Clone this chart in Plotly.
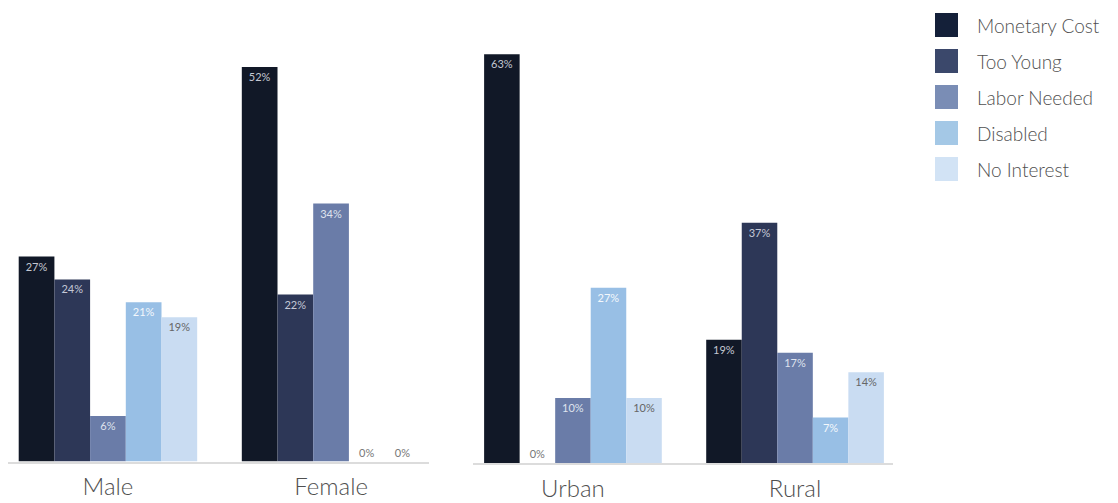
import plotly.graph_objects as go

# ---- data ----
series = ["Monetary Cost", "Too Young", "Labor Needed", "Disabled", "No Interest"]
bar_colors = ["#111827", "#2d3757", "#6a7ca8", "#98bfe5", "#c9dcf2"]
legend_colors = ["#142039", "#3b486b", "#7a8db5", "#a4c8e6", "#d2e3f5"]
text_colors = ["#c4c8d2", "#c4c8d6", "#dfe3ee", "#f4f8fc", "#666666"]

gender_cats = ["Male", "Female"]
gender_vals = {
    "Monetary Cost": [27, 52],
    "Too Young": [24, 22],
    "Labor Needed": [6, 34],
    "Disabled": [21, 0],
    "No Interest": [19, 0],
}

area_cats = ["Urban", "Rural"]
area_vals = {
    "Monetary Cost": [63, 19],
    "Too Young": [0, 37],
    "Labor Needed": [10, 17],
    "Disabled": [27, 7],
    "No Interest": [10, 14],
}

OFF = 8  # page body margin
W, H = 1118 - OFF, 503 - OFF
FONT = "Lato"

fig = go.Figure()


def add_group(cats, vals, xa, ya):
    for s, bc, tc in zip(series, bar_colors, text_colors):
        v = vals[s]
        fig.add_trace(go.Bar(
            x=cats, y=v, name=s, xaxis=xa, yaxis=ya,
            marker=dict(color=bc, line=dict(width=0)),
            text=[f"{a}%" for a in v],
            textposition=["outside" if a == 0 else "inside" for a in v],
            insidetextanchor="end",
            textfont=dict(family=FONT, size=11,
                          color=["#777777" if a == 0 else tc for a in v]),
            cliponaxis=False,
            showlegend=False,
            hoverinfo="skip",
        ))


add_group(gender_cats, gender_vals, "x", "y")
add_group(area_cats, area_vals, "x2", "y2")


def px_x(p):
    return (p - OFF) / W


def px_y(p):
    return 1 - (p - OFF) / H


axis_common = dict(
    showline=True, linecolor="#dcdcdc", linewidth=1.5,
    showgrid=False, zeroline=False, ticks="",
    tickfont=dict(family=FONT, size=24, color="#505050", weight=300),
    ticklabelstandoff=3,
    automargin=False,
)
yaxis_common = dict(visible=False, showgrid=False, zeroline=False, fixedrange=True)

fig.update_layout(
    width=W, height=H,
    margin=dict(l=0, r=0, t=0, b=0),
    paper_bgcolor="white", plot_bgcolor="white",
    barmode="group", bargap=0.2, bargroupgap=0,
    xaxis=dict(domain=[px_x(8), px_x(429)], range=[-0.448, 1.439], anchor="y", **axis_common),
    yaxis=dict(domain=[px_y(461.5), px_y(10)], range=[0, 59.5], anchor="x", **yaxis_common),
    xaxis2=dict(domain=[px_x(473), px_x(893)], range=[-0.450, 1.441], anchor="y2", **axis_common),
    yaxis2=dict(domain=[px_y(463), px_y(10)], range=[0, 69.8], anchor="x2", **yaxis_common),
    font=dict(family=FONT, color="#444444"),
)

# ---- manual legend ----
for i, (s, c) in enumerate(zip(series, legend_colors)):
    cy = 25 + 36 * i
    fig.add_shape(type="rect", xref="paper", yref="paper",
                  x0=px_x(935), x1=px_x(958), y0=px_y(cy + 12), y1=px_y(cy - 12),
                  fillcolor=c, line=dict(width=0))
    fig.add_annotation(xref="paper", yref="paper", x=px_x(975), y=px_y(cy),
                       text=s, showarrow=False, xanchor="left", yanchor="middle",
                       font=dict(family=FONT, size=19, color="#505050", weight=300))

fig.write_html("out.html")
